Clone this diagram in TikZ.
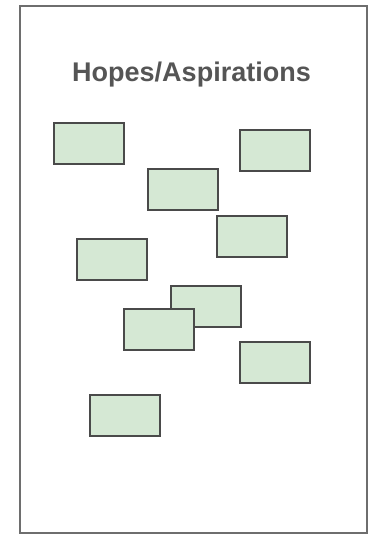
\documentclass[tikz,border=0pt]{standalone}
\usepackage{fontspec}
\setmainfont{Liberation Sans}
\definecolor{notefill}{HTML}{D5E8D4}
\definecolor{noteline}{HTML}{4A4A4A}
\definecolor{frameline}{HTML}{6E6E6E}
\definecolor{titlecol}{HTML}{555555}
\begin{document}
\begin{tikzpicture}[x=1pt,y=-1pt,
  note/.style={draw=noteline,fill=notefill,line width=2pt,minimum width=70pt,minimum height=41pt,inner sep=0pt,anchor=north west},
  frame/.style={draw=frameline,line width=1.6pt,anchor=north west,inner sep=0pt}]
\useasboundingbox (0,0) rectangle (368,534);
\node[frame,minimum width=347pt,minimum height=527pt] (board) at (19,5) {};
\node[text=titlecol,font=\bfseries\fontsize{27}{32}\selectfont,anchor=base,inner sep=0pt] (title) at (191.5,81.5) {Hopes/Aspirations};
\node[note] (n1) at (53,122) {};
\node[note] (n2) at (239,129) {};
\node[note] (n3) at (147,168) {};
\node[note] (n4) at (216,215) {};
\node[note] (n5) at (76,238) {};
\node[note] (n6) at (170,285) {};
\node[note] (n7) at (123,308) {};
\node[note] (n8) at (239,341) {};
\node[note] (n9) at (89,394) {};
\end{tikzpicture}
\end{document}
